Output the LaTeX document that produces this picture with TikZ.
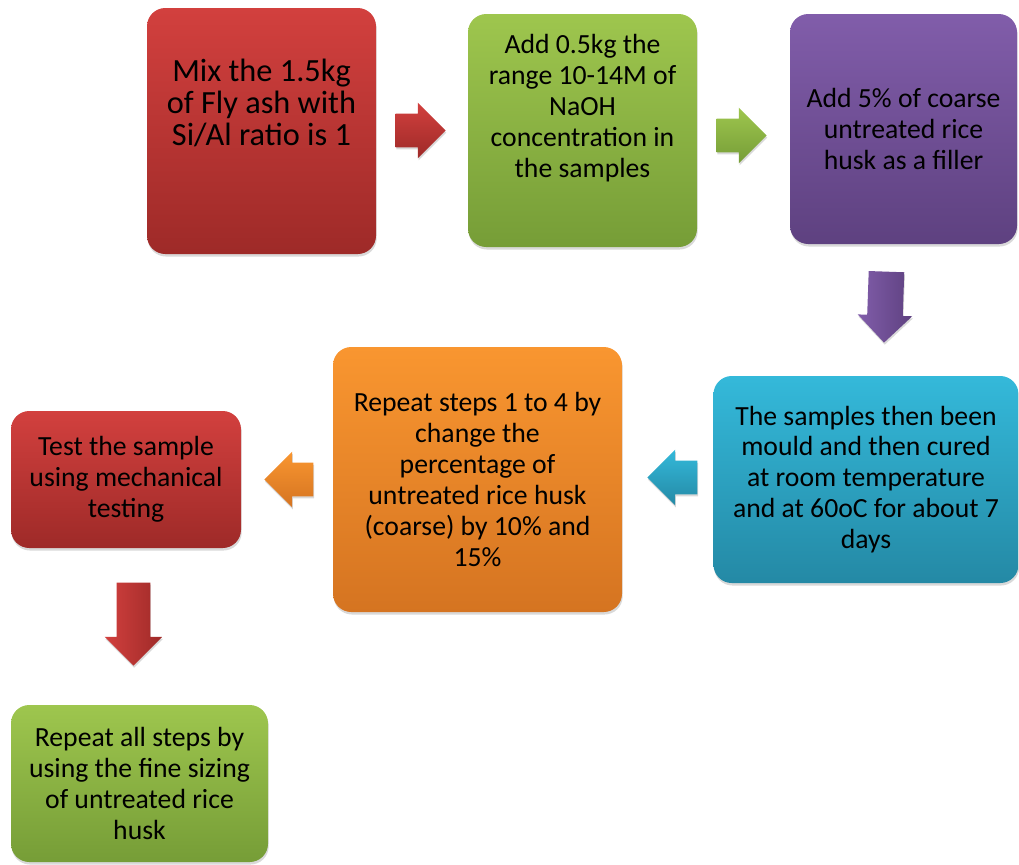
\documentclass[tikz,border=0pt]{standalone}
\usepackage{fontspec}
\setmainfont{Carlito}
\usetikzlibrary{positioning,shapes.arrows,shadows}
\definecolor{redtop}{RGB}{210,64,62}
\definecolor{redbot}{RGB}{158,42,40}
\definecolor{greentop}{RGB}{158,198,78}
\definecolor{greenbot}{RGB}{118,157,55}
\definecolor{purpletop}{RGB}{129,93,170}
\definecolor{purplebot}{RGB}{94,65,128}
\definecolor{bluetop}{RGB}{52,185,218}
\definecolor{bluebot}{RGB}{36,137,165}
\definecolor{orangetop}{RGB}{249,150,48}
\definecolor{orangebot}{RGB}{213,116,33}
\tikzset{
  stepbox/.style={rounded corners=13pt, inner sep=0pt, align=center,
    font=\fontsize{19.7}{22}\selectfont,
    drop shadow={opacity=.3, shadow xshift=.5pt, shadow yshift=-1.8pt}},
  steptext/.style={align=center, inner sep=0pt, font=\fontsize{19.7}{22}\selectfont},
  boxsize/.style 2 args={minimum width=#1*0.025cm, minimum height=#2*0.025cm},
  blockarrow/.style={single arrow, anchor=tip, inner xsep=0pt, inner ysep=16.5*0.025cm,
    single arrow head extend=11*0.025cm,
    drop shadow={opacity=.3, shadow xshift=.5pt, shadow yshift=-1.5pt}},
  redfill/.style={top color=redtop, bottom color=redbot},
  greenfill/.style={top color=greentop, bottom color=greenbot},
  purplefill/.style={top color=purpletop, bottom color=purplebot},
  bluefill/.style={top color=bluetop, bottom color=bluebot},
  orangefill/.style={top color=orangetop, bottom color=orangebot}
}
\begin{document}
\begin{tikzpicture}[x=0.025cm, y=-0.025cm]
\useasboundingbox (0,0) rectangle (1019,864);
% top row
\node[stepbox, redfill, boxsize={229}{246}] (mix) at (261.5,131) {};
\node[steptext, font=\fontsize{23}{22.8}\selectfont] (mixtext) at (261.5,103) {Mix the 1.5kg\\of Fly ash with\\Si/Al ratio is 1};
\node[stepbox, greenfill, boxsize={229}{233}] (naoh) at (582.5,130.5) {};
\node[steptext] (naohtext) at (582.5,108) {Add 0.5kg the\\range 10-14M of\\NaOH\\concentration in\\the samples};
\node[stepbox, purplefill, boxsize={227}{230}] (husk) at (903.5,129) {Add 5\% of coarse\\untreated rice\\husk as a filler};
% middle row
\node[stepbox, bluefill, boxsize={305}{207}] (cure) at (866,479.5) {The samples then been\\mould and then cured\\at room temperature\\and at 60oC for about 7\\days};
\node[stepbox, orangefill, boxsize={289}{265}] (repeat) at (477.5,479.5) {Repeat steps 1 to 4 by\\change the\\percentage of\\untreated rice husk\\(coarse) by 10\% and\\15\%};
\node[stepbox, redfill, boxsize={230}{137}] (test) at (126,479.5) {Test the sample\\using mechanical\\testing};
% bottom
\node[stepbox, greenfill, boxsize={257}{157}] (fine) at (139.5,783.5) {Repeat all steps by\\using the fine sizing\\of untreated rice\\husk};
% arrows
\node[blockarrow, redfill, minimum height=50*0.025cm] (mixarrow) at (446,130.5) {};
\node[blockarrow, greenfill, minimum height=50*0.025cm] (naoharrow) at (767,135.5) {};
\node[blockarrow, left color=purpletop, right color=purplebot, rotate=-92, inner ysep=17.5*0.025cm, single arrow head extend=9.5*0.025cm, minimum height=71*0.025cm] (huskarrow) at (884,343) {};
\node[blockarrow, bluefill, shape border rotate=180, minimum height=50*0.025cm] (curearrow) at (647,477.5) {};
\node[blockarrow, orangefill, shape border rotate=180, minimum height=49*0.025cm] (repeatarrow) at (264,479.5) {};
\node[blockarrow, left color=redtop, right color=redbot, rotate=-90, inner ysep=16.5*0.025cm, single arrow head extend=12*0.025cm, minimum height=83*0.025cm] (testarrow) at (133.5,666) {};
\end{tikzpicture}
\end{document}
